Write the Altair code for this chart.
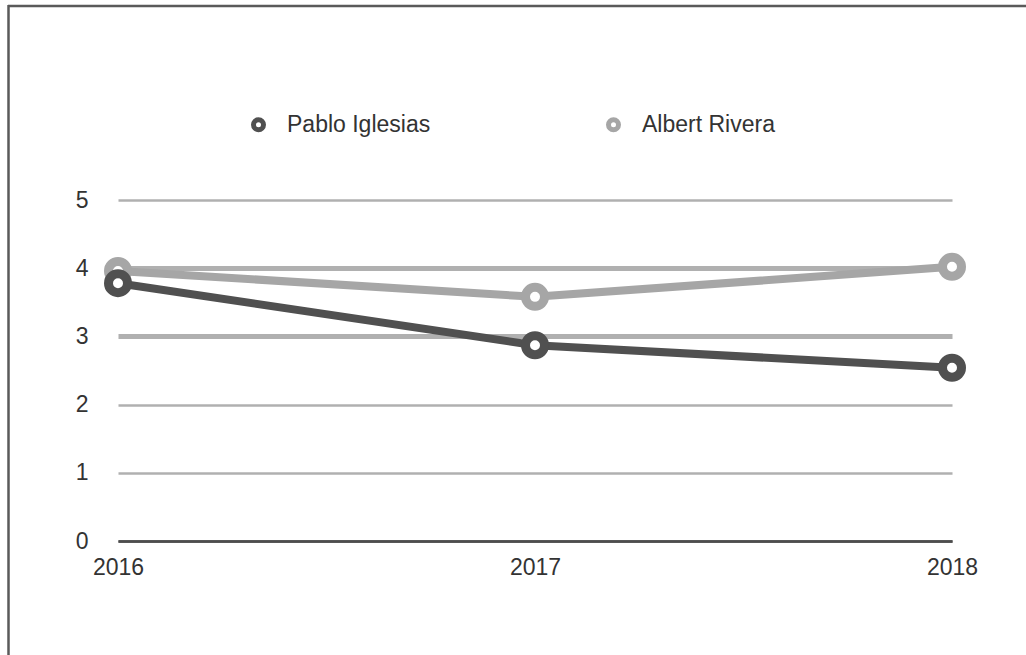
import altair as alt
import pandas as pd

# Survey scores per leader and year
years = ["2016", "2017", "2018"]
pablo_iglesias = [3.78, 2.87, 2.54]
albert_rivera = [3.96, 3.58, 4.02]
series = ["Pablo Iglesias", "Albert Rivera"]
series_colors = ["#505050", "#a6a6a6"]
y_ticks = [0, 1, 2, 3, 4, 5]

rows = []
# Albert first so that Pablo's markers are drawn on top
for name, values in (("Albert Rivera", albert_rivera), ("Pablo Iglesias", pablo_iglesias)):
    for year, v in zip(years, values):
        rows.append({"year": year, "value": v, "name": name})
df = pd.DataFrame(rows)

FONT = "Liberation Sans"
TEXT = "#333333"
FS = 23

x_enc = alt.X(
    "year:O",
    scale=alt.Scale(type="point", padding=0),
    axis=alt.Axis(
        title=None, labelAngle=0, ticks=False, grid=False,
        domain=True, domainColor="#4d4d4d", domainWidth=2.5,
        labelPadding=15, labelFontSize=FS, labelFont=FONT, labelColor=TEXT,
    ),
)
y_enc = alt.Y(
    "value:Q",
    scale=alt.Scale(domain=[0, 5], nice=False, zero=True),
    axis=alt.Axis(
        title=None, values=y_ticks, format="d", domain=False, ticks=False,
        labelPadding=30, labelFontSize=FS, labelFont=FONT, labelColor=TEXT,
        labelFlush=False,
        gridColor={"condition": {"test": "datum.value == 0", "value": "#4d4d4d"},
                   "value": "#b0b0b0"},
        gridWidth={"condition": {"test": "datum.value == 3 || datum.value == 4", "value": 5},
                   "value": 2.5},
    ),
)
color_enc = alt.Color(
    "name:N",
    scale=alt.Scale(domain=series, range=series_colors),
    legend=alt.Legend(
        title=None, orient="none", legendX=129, legendY=-87, direction="horizontal",
        symbolType="circle", symbolSize=100, symbolStrokeWidth=5,
        symbolFillColor="white", symbolOpacity=1,
        labelFontSize=FS, labelFont=FONT, labelColor=TEXT, labelOffset=17,
        labelLimit=300, columnPadding=167, padding=0,
    ),
)

base = alt.Chart(df).encode(x=x_enc, y=y_enc, color=color_enc)
lines = base.mark_line(strokeWidth=8, strokeCap="round", strokeJoin="round")
points = base.mark_point(filled=False, fill="white", size=361, strokeWidth=9, opacity=1)

# Page frame (top and left edges)
frame = alt.Data(values=[{}])
frame_top = alt.Chart(frame).mark_rule(color="#5a5a5a", strokeWidth=2.5).encode(
    x=alt.value(-110), x2=alt.value(910), y=alt.value(-194)
)
frame_left = alt.Chart(frame).mark_rule(color="#5a5a5a", strokeWidth=2.5).encode(
    x=alt.value(-109.5), y=alt.value(-195), y2=alt.value(460)
)

chart = (
    alt.layer(frame_top, frame_left, lines, points)
    .properties(
        width=834, height=341,
        autosize=alt.AutoSizeParams(type="none"),
        padding={"left": 118, "top": 200, "right": 74, "bottom": 114},
        background="white",
    )
    .configure_view(stroke=None)
)

chart.save("out.html", embed_options={"renderer": "svg", "actions": False})
